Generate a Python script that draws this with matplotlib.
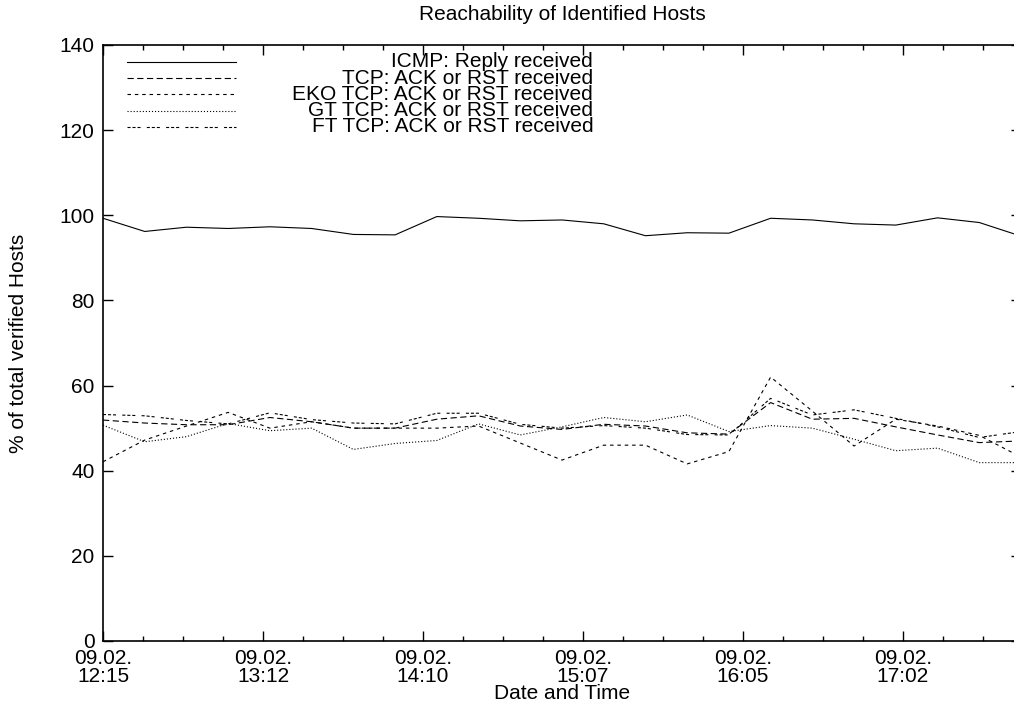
import matplotlib
matplotlib.use("Agg")
import matplotlib.pyplot as plt
import numpy as np

# measurement times (15 min steps), 09.02.
times = ["12:15", "12:30", "12:45", "13:00", "13:15", "13:30", "13:45", "14:00",
         "14:15", "14:30", "14:45", "15:00", "15:15", "15:30", "15:45", "16:00",
         "16:15", "16:30", "16:45", "17:00", "17:15", "17:30", "17:45"]

icmp = [99.3, 96.2, 97.2, 96.9, 97.3, 96.9, 95.5, 95.4, 99.7, 99.3, 98.7, 98.9,
        98.0, 95.2, 95.9, 95.8, 99.3, 98.9, 98.0, 97.7, 99.4, 98.3, 95.1]
tcp = [51.9, 51.2, 50.8, 50.8, 52.5, 51.5, 50.0, 50.0, 52.1, 52.9, 50.5, 49.7,
       50.9, 50.5, 48.9, 48.6, 56.0, 52.1, 52.3, 50.3, 48.4, 46.6, 47.0]
eko = [42.1, 47.2, 50.5, 53.7, 50.0, 51.5, 50.0, 50.0, 50.0, 50.5, 46.5, 42.5,
       46.0, 46.0, 41.6, 44.5, 62.0, 54.0, 45.8, 52.1, 50.5, 48.3, 43.2]
gt = [50.7, 46.8, 48.0, 51.1, 49.4, 50.0, 45.0, 46.4, 47.1, 51.0, 48.4, 50.3,
      52.5, 51.5, 53.1, 49.2, 50.6, 50.0, 47.4, 44.7, 45.3, 41.9, 41.9]
ft = [53.2, 52.9, 51.8, 51.0, 53.6, 52.0, 51.2, 51.0, 53.5, 53.5, 50.9, 50.0,
      50.6, 50.0, 48.5, 48.4, 57.0, 53.1, 54.3, 52.3, 50.3, 47.8, 49.2]

tick_labels = ["09.02.\n12:15", "09.02.\n13:12", "09.02.\n14:10",
               "09.02.\n15:07", "09.02.\n16:05", "09.02.\n17:02"]

series = [
    ("ICMP: Reply received", icmp, "-"),
    ("TCP: ACK or RST received", tcp, (0, (4.5, 2.5))),
    ("EKO TCP: ACK or RST received", eko, (0, (2.5, 2.8))),
    ("GT TCP: ACK or RST received", gt, (0, (0.8, 1.4))),
    ("FT TCP: ACK or RST received", ft, (0, (2.2, 1.4, 2.2, 1.4, 2.2, 4.5))),
]

plt.rcParams["font.family"] = ["Liberation Sans", "DejaVu Sans"]
plt.rcParams["lines.scale_dashes"] = False
FS = 15


def minutes(t):
    h, m = t.split(":")
    return int(h) * 60 + int(m)


x = np.array([minutes(t) for t in times]) - minutes(times[0])

W, H = 1014, 727
fig = plt.figure(figsize=(W / 100, H / 100), dpi=100)
# right border of the plot lies just past the image edge
ax = fig.add_axes([103 / W, 86 / H, 918 / W, 596 / H])

for label, vals, ls in series:
    ax.plot(x, vals, color="black", lw=0.8, linestyle=ls)

ax.set_xlim(0, 330)
ax.set_ylim(0, 140)

major = np.arange(len(tick_labels)) * 57.5
ax.set_xticks(major)
ax.set_xticklabels(tick_labels, fontsize=FS, linespacing=0.88)
ax.set_xticks(np.arange(0, 330, 57.5 / 4), minor=True)
ax.set_yticks(np.arange(0, 141, 20))
ax.tick_params(axis="y", labelsize=FS, pad=6)
ax.tick_params(axis="x", pad=6)
ax.tick_params(which="both", direction="in", top=True, right=True, width=1)
ax.tick_params(which="major", length=7)
ax.tick_params(which="minor", length=3.5)
for s in ax.spines.values():
    s.set_linewidth(1.2)

ax.set_xlabel("Date and Time", fontsize=FS)
ax.xaxis.set_label_coords(0.5, -0.072)
ax.set_ylabel("% of total verified Hosts", fontsize=FS)
ax.yaxis.set_label_coords(-0.082, 0.5)
fig.text(562 / W, 1 - 14 / H, "Reachability of Identified Hosts",
         fontsize=FS, ha="center", va="center")

# key: sample on the left, right-justified text
y0, dy = 0.9715, 0.0272
for i, (label, vals, ls) in enumerate(series):
    yy = y0 - i * dy
    ax.plot([0.026, 0.145], [yy, yy], transform=ax.transAxes, color="black",
            lw=0.8, linestyle=ls, clip_on=False)
    ax.text(0.534, yy, label, transform=ax.transAxes, ha="right",
            va="center", fontsize=FS)

fig.savefig("out.png", dpi=100)
